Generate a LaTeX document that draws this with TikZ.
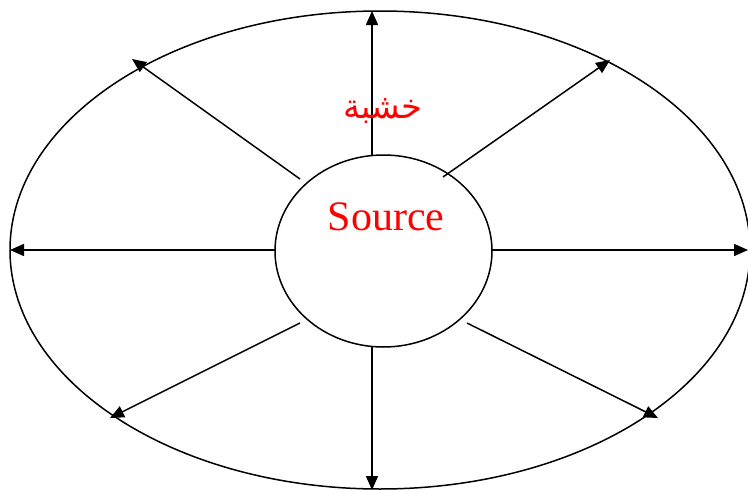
\documentclass[tikz,border=0pt]{standalone}
\usepackage{fontspec}
\setmainfont{Liberation Serif}
\newfontfamily\arabicfont[Script=Arabic]{DejaVu Sans}
\TeXXeTstate=1
\usetikzlibrary{arrows.meta}
\begin{document}
\begin{tikzpicture}[x=1pt,y=-1pt,
  ring/.style={draw=black,line width=1.5pt},
  ray/.style={line width=1.5pt,-{Triangle[length=14pt,width=12pt]}},
  redtext/.style={text=red,inner sep=0pt}]
\useasboundingbox (0,0) rectangle (748,490);
\draw[ring] (380,250) ellipse [x radius=370, y radius=239];
\draw[ring] (383.5,251) ellipse [x radius=108.5, y radius=96];
\node[redtext,font=\fontsize{42}{48}\selectfont] (src) at (386,217) {Source};
% start points
\coordinate (s1) at (372,155);
\coordinate (s2) at (443,177);
\coordinate (s3) at (492,250);
\coordinate (s4) at (467,323);
\coordinate (s5) at (372,347);
\coordinate (s6) at (300,323);
\coordinate (s7) at (275,250);
\coordinate (s8) at (300,179);
% end points
\coordinate (e1) at (372,11);
\coordinate (e2) at (610,60);
\coordinate (e3) at (748,250);
\coordinate (e4) at (658,418);
\coordinate (e5) at (372,490);
\coordinate (e6) at (110,418);
\coordinate (e7) at (10,250);
\coordinate (e8) at (132,59);
\foreach \i in {1,...,8} \draw[ray] (s\i) -- (e\i);
\node[redtext,font=\arabicfont\fontsize{34}{40}\selectfont] (ar) at (383,111) {\beginR خشبة\endR};
\end{tikzpicture}
\end{document}
